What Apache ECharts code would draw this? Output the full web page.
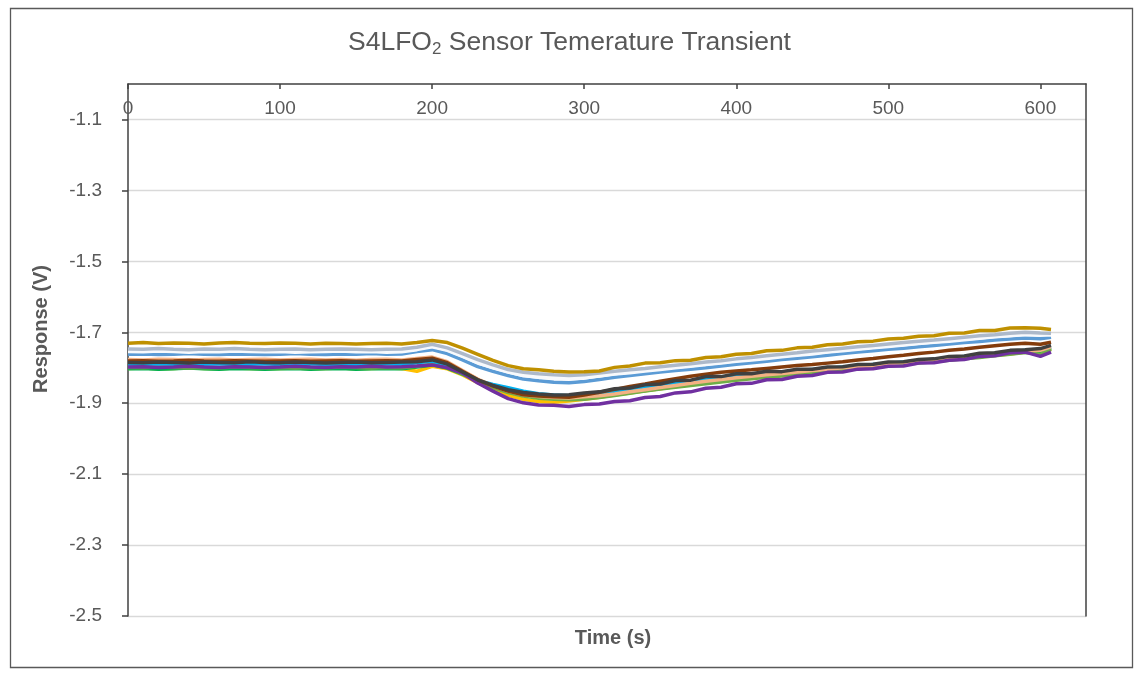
<!DOCTYPE html>
<html>
<head>
<meta charset="utf-8">
<script src="https://cdn.jsdelivr.net/npm/echarts@6/dist/echarts.min.js"></script>
<style>
html,body{margin:0;padding:0;background:#fff;}
#chart{width:1139px;height:673px;}
</style>
</head>
<body>
<div id="chart"></div>
<script>
const times = [0,10,20,30,40,50,60,70,80,90,100,110,120,130,140,150,160,170,180,190,200,210,220,230,240,250,260,270,280,290,300,310,320,330,340,350,360,370,380,390,400,410,420,430,440,450,460,470,480,490,500,510,520,530,540,550,560,570,580,590,600,607];
const xTicks = [0,100,200,300,400,500,600];
const yTicks = [-2.5,-2.3,-2.1,-1.9,-1.7,-1.5,-1.3,-1.1];

const yellow = [-1.802,-1.801,-1.803,-1.802,-1.800,-1.802,-1.803,-1.801,-1.802,-1.803,
-1.802,-1.801,-1.803,-1.802,-1.801,-1.803,-1.802,-1.801,-1.802,-1.810,
-1.796,-1.803,-1.820,-1.842,-1.862,-1.878,-1.889,-1.895,-1.897,-1.894,
-1.889,-1.883,-1.877,-1.871,-1.865,-1.859,-1.853,-1.848,-1.843,-1.838,
-1.833,-1.829,-1.825,-1.821,-1.817,-1.813,-1.809,-1.805,-1.801,-1.797,
-1.793,-1.789,-1.785,-1.781,-1.777,-1.773,-1.769,-1.765,-1.761,-1.756,
-1.758,-1.747];
const green = [-1.803,-1.802,-1.804,-1.803,-1.801,-1.803,-1.804,-1.802,-1.803,-1.804,
-1.803,-1.802,-1.804,-1.803,-1.802,-1.804,-1.803,-1.802,-1.803,-1.798,
-1.792,-1.801,-1.818,-1.836,-1.850,-1.862,-1.872,-1.879,-1.883,-1.885,
-1.883,-1.879,-1.874,-1.869,-1.864,-1.858,-1.852,-1.847,-1.842,-1.837,
-1.832,-1.828,-1.823,-1.819,-1.815,-1.811,-1.807,-1.803,-1.799,-1.795,
-1.792,-1.788,-1.784,-1.780,-1.776,-1.772,-1.768,-1.764,-1.759,-1.754,
-1.755,-1.744];
const lightGreen = [-1.799,-1.800,-1.798,-1.799,-1.801,-1.799,-1.800,-1.798,-1.799,-1.800,
-1.799,-1.801,-1.799,-1.800,-1.798,-1.799,-1.801,-1.799,-1.800,-1.796,
-1.790,-1.799,-1.817,-1.838,-1.856,-1.870,-1.880,-1.886,-1.889,-1.890,
-1.889,-1.884,-1.878,-1.872,-1.866,-1.860,-1.855,-1.850,-1.845,-1.840,
-1.835,-1.831,-1.827,-1.823,-1.819,-1.815,-1.811,-1.807,-1.803,-1.799,
-1.795,-1.791,-1.787,-1.783,-1.779,-1.775,-1.771,-1.766,-1.762,-1.757,
-1.762,-1.748];
const cyan = [-1.790,-1.791,-1.789,-1.790,-1.792,-1.790,-1.789,-1.791,-1.790,-1.789,
-1.791,-1.790,-1.789,-1.791,-1.790,-1.792,-1.790,-1.789,-1.791,-1.786,
-1.781,-1.792,-1.815,-1.836,-1.847,-1.856,-1.866,-1.873,-1.877,-1.879,
-1.876,-1.871,-1.866,-1.860,-1.854,-1.848,-1.843,-1.838,-1.832,-1.827,
-1.823,-1.819,-1.815,-1.812,-1.808,-1.805,-1.802,-1.798,-1.795,-1.791,
-1.788,-1.784,-1.780,-1.776,-1.772,-1.768,-1.764,-1.760,-1.756,-1.751,
-1.749,-1.741];
const orange = [-1.777,-1.778,-1.776,-1.777,-1.779,-1.777,-1.776,-1.778,-1.777,-1.776,
-1.778,-1.777,-1.776,-1.778,-1.777,-1.779,-1.777,-1.776,-1.778,-1.774,
-1.770,-1.783,-1.808,-1.832,-1.851,-1.866,-1.876,-1.881,-1.884,-1.885,
-1.882,-1.879,-1.874,-1.868,-1.862,-1.856,-1.850,-1.844,-1.838,-1.833,
-1.828,-1.824,-1.820,-1.816,-1.812,-1.808,-1.804,-1.800,-1.797,-1.793,
-1.789,-1.785,-1.781,-1.777,-1.773,-1.769,-1.765,-1.760,-1.756,-1.752,
-1.751,-1.741];
const purple = [-1.798,-1.797,-1.799,-1.798,-1.796,-1.798,-1.799,-1.797,-1.798,-1.799,
-1.798,-1.796,-1.798,-1.799,-1.797,-1.798,-1.796,-1.798,-1.797,-1.795,
-1.792,-1.800,-1.815,-1.843,-1.866,-1.887,-1.899,-1.905,-1.906,-1.909,
-1.904,-1.902,-1.895,-1.893,-1.884,-1.881,-1.871,-1.868,-1.858,-1.855,
-1.845,-1.844,-1.834,-1.833,-1.824,-1.822,-1.813,-1.812,-1.804,-1.803,
-1.796,-1.795,-1.787,-1.786,-1.779,-1.777,-1.768,-1.766,-1.758,-1.756,
-1.768,-1.756];
const brown = [-1.781,-1.780,-1.782,-1.781,-1.779,-1.781,-1.782,-1.780,-1.781,-1.782,
-1.781,-1.780,-1.782,-1.781,-1.780,-1.782,-1.781,-1.780,-1.781,-1.777,
-1.773,-1.786,-1.810,-1.834,-1.852,-1.866,-1.876,-1.880,-1.882,-1.883,
-1.877,-1.869,-1.861,-1.853,-1.846,-1.838,-1.831,-1.824,-1.818,-1.813,
-1.809,-1.806,-1.802,-1.798,-1.794,-1.791,-1.787,-1.783,-1.778,-1.774,
-1.769,-1.765,-1.760,-1.756,-1.751,-1.747,-1.742,-1.738,-1.734,-1.731,
-1.734,-1.728];
const darkGray = [-1.785,-1.786,-1.784,-1.785,-1.787,-1.784,-1.785,-1.786,-1.783,-1.785,
-1.786,-1.784,-1.785,-1.787,-1.785,-1.784,-1.786,-1.785,-1.784,-1.783,
-1.778,-1.790,-1.812,-1.834,-1.850,-1.862,-1.870,-1.874,-1.877,-1.876,
-1.871,-1.868,-1.859,-1.857,-1.848,-1.846,-1.836,-1.835,-1.825,-1.825,
-1.817,-1.817,-1.810,-1.811,-1.804,-1.804,-1.798,-1.797,-1.791,-1.790,
-1.784,-1.783,-1.777,-1.775,-1.768,-1.767,-1.759,-1.758,-1.751,-1.749,
-1.746,-1.737];
const blue = [-1.762,-1.761,-1.763,-1.762,-1.760,-1.762,-1.763,-1.761,-1.762,-1.763,
-1.762,-1.760,-1.762,-1.763,-1.761,-1.762,-1.760,-1.762,-1.761,-1.754,
-1.749,-1.760,-1.778,-1.797,-1.810,-1.822,-1.832,-1.837,-1.841,-1.842,
-1.839,-1.833,-1.827,-1.822,-1.817,-1.812,-1.808,-1.804,-1.800,-1.795,
-1.790,-1.786,-1.782,-1.777,-1.773,-1.769,-1.765,-1.760,-1.756,-1.752,
-1.748,-1.745,-1.741,-1.737,-1.733,-1.729,-1.726,-1.722,-1.719,-1.716,
-1.718,-1.714];
const white = [-1.754,-1.755,-1.753,-1.754,-1.756,-1.754,-1.755,-1.753,-1.754,-1.755,
-1.754,-1.756,-1.755,-1.754,-1.753,-1.755,-1.754,-1.756,-1.755,-1.749,
-1.741,-1.751,-1.768,-1.786,-1.800,-1.812,-1.822,-1.827,-1.830,-1.831,
-1.829,-1.823,-1.818,-1.814,-1.809,-1.805,-1.800,-1.796,-1.791,-1.787,
-1.782,-1.778,-1.774,-1.769,-1.765,-1.761,-1.756,-1.752,-1.748,-1.744,
-1.740,-1.736,-1.732,-1.728,-1.725,-1.721,-1.717,-1.713,-1.710,-1.706,
-1.708,-1.708];
const silver = [-1.747,-1.748,-1.746,-1.748,-1.749,-1.747,-1.748,-1.746,-1.748,-1.749,
-1.748,-1.747,-1.749,-1.748,-1.747,-1.748,-1.749,-1.748,-1.747,-1.742,
-1.734,-1.744,-1.760,-1.777,-1.792,-1.805,-1.813,-1.817,-1.820,-1.822,
-1.820,-1.815,-1.810,-1.806,-1.802,-1.797,-1.793,-1.789,-1.784,-1.780,
-1.775,-1.771,-1.766,-1.762,-1.758,-1.753,-1.749,-1.745,-1.741,-1.737,
-1.733,-1.729,-1.725,-1.722,-1.718,-1.714,-1.710,-1.707,-1.703,-1.700,
-1.702,-1.703];
const gold = [-1.731,-1.729,-1.732,-1.730,-1.731,-1.733,-1.730,-1.729,-1.731,-1.732,
-1.730,-1.731,-1.733,-1.731,-1.732,-1.733,-1.732,-1.731,-1.733,-1.729,
-1.723,-1.729,-1.745,-1.762,-1.779,-1.794,-1.803,-1.806,-1.810,-1.812,
-1.811,-1.809,-1.799,-1.795,-1.787,-1.786,-1.780,-1.779,-1.771,-1.769,
-1.762,-1.760,-1.752,-1.751,-1.744,-1.742,-1.735,-1.733,-1.727,-1.725,
-1.719,-1.717,-1.711,-1.710,-1.703,-1.702,-1.695,-1.695,-1.688,-1.687,
-1.689,-1.692];

const seriesList = [
  {name:'Yellow', data:yellow, color:'#FFC000'},
  {name:'Green', data:green, color:'#00B050'},
  {name:'Light green', data:lightGreen, color:'#70AD47'},
  {name:'Cyan', data:cyan, color:'#00B0F0'},
  {name:'Orange', data:orange, color:'#F4B183'},
  {name:'Purple', data:purple, color:'#7030A0'},
  {name:'Brown', data:brown, color:'#843C0C'},
  {name:'Dark gray', data:darkGray, color:'#404040'},
  {name:'Blue', data:blue, color:'#5B9BD5'},
  {name:'White', data:white, color:'#F7F9FC'},
  {name:'Silver', data:silver, color:'#ADB9CA'},
  {name:'Gold', data:gold, color:'#BF9000'}
];

const chart = echarts.init(document.getElementById('chart'), null, {renderer:'canvas'});
const FONT = 'Liberation Sans, Arial, sans-serif';
chart.setOption({
  animation: false,
  backgroundColor: '#fff',
  title: {
    text: '{a|S4LFO}{s|2}{a| Sensor Temerature Transient}',
    left: 'center',
    top: 22,
    textStyle: {
      fontFamily: FONT, fontWeight: 'normal', fontSize: 26, color: '#595959',
      rich: {
        a: {fontFamily: FONT, fontSize: 26.5, color: '#595959'},
        s: {fontFamily: FONT, fontSize: 17, color: '#595959', padding: [14,0,0,0]}
      }
    }
  },
  graphic: [{
    type: 'rect', silent: true,
    shape: {x: 10.5, y: 8.5, width: 1122, height: 659},
    style: {fill: 'none', stroke: '#595959', lineWidth: 1.3}
  }, {
    type: 'text', silent: true, x: 41, y: 329, rotation: Math.PI / 2,
    style: {text: 'Response (V)', fill: '#595959', font: 'bold 20px ' + FONT, align: 'center', verticalAlign: 'middle'}
  }, {
    type: 'text', silent: true, x: 613, y: 638,
    style: {text: 'Time (s)', fill: '#595959', font: 'bold 20px ' + FONT, align: 'center', verticalAlign: 'middle'}
  }],
  grid: {left: 128, top: 84, right: 53, bottom: 57},
  xAxis: [{
    type: 'value', position: 'top', min: 0, max: 630, interval: 100,
    axisLine: {show: true, onZero: false, lineStyle: {color: '#404040', width: 1.5}},
    axisTick: {show: true, inside: true, length: 5, customValues: xTicks, lineStyle: {color: '#404040', width: 1.5}},
    axisLabel: {inside: true, margin: 15, customValues: xTicks, color: '#595959', fontSize: 19, fontFamily: FONT},
    splitLine: {show: false}
  }],
  yAxis: [{
    type: 'value', min: -2.5, max: -1.0,
    axisLine: {show: true, onZero: false, lineStyle: {color: '#404040', width: 1.5}},
    axisTick: {show: true, length: 6, customValues: yTicks, lineStyle: {color: '#404040', width: 1.5}},
    axisLabel: {margin: 26, customValues: yTicks, color: '#595959', fontSize: 19, fontFamily: FONT,
      formatter: v => v.toFixed(1)},
    splitLine: {show: true, lineStyle: {color: '#D9D9D9', width: 1.3}}
  }, {
    type: 'value', position: 'right', min: -2.5, max: -1.0,
    axisLine: {show: true, onZero: false, lineStyle: {color: '#404040', width: 1.5}},
    axisTick: {show: false}, axisLabel: {show: false}, splitLine: {show: false}
  }],
  series: seriesList.map(s => ({
    name: s.name, type: 'line', xAxisIndex: 0, yAxisIndex: 0,
    data: times.map((t, i) => [t, s.data[i]]),
    symbol: 'none', smooth: false,
    lineStyle: {color: s.color, width: 3.5},
    itemStyle: {color: s.color}
  }))
});
</script>
</body>
</html>
